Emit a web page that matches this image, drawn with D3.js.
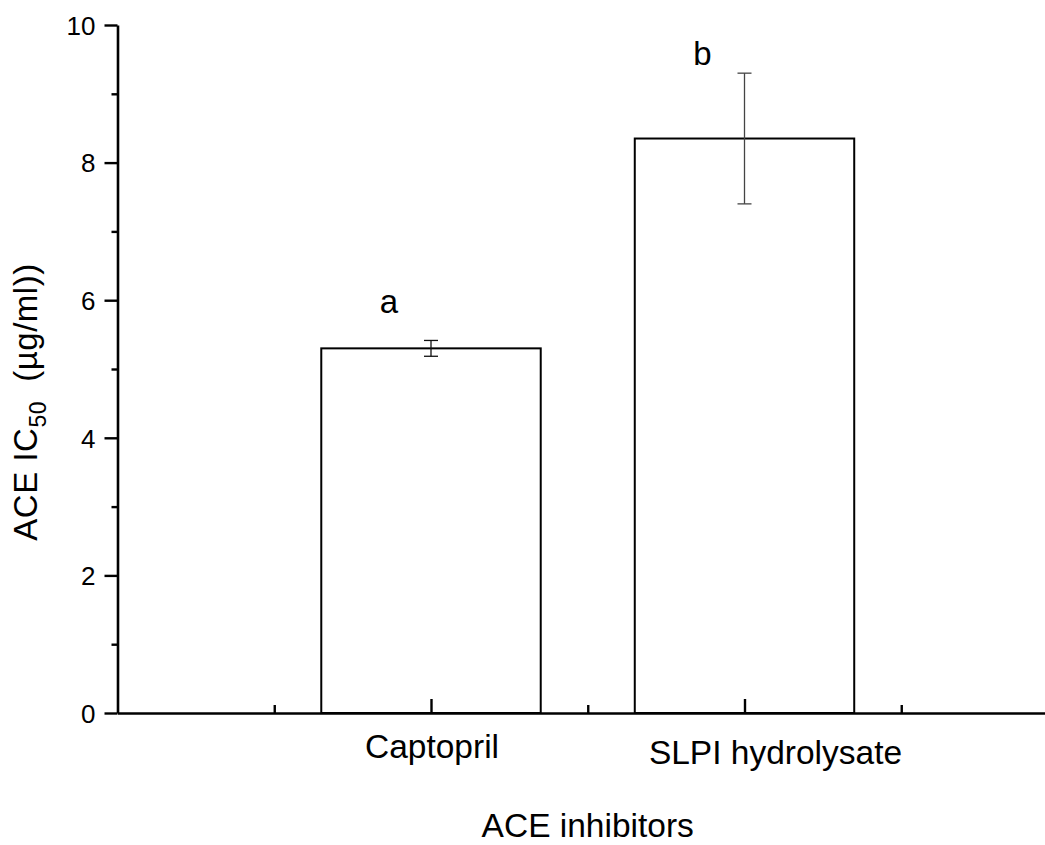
<!DOCTYPE html>
<html>
<head>
<meta charset="utf-8">
<script src="https://cdn.jsdelivr.net/npm/d3@7"></script>
<style>
  body { margin: 0; background: #fff; }
  text { font-family: "Liberation Sans", Arial, sans-serif; fill: #000; }
</style>
</head>
<body>
<div class="chart"></div>
<script>
// data
const categories = ["Captopril", "SLPI hydrolysate"];
const means = [5.30, 8.35];
const errors = [0.115, 0.95];
const letters = ["a", "b"];
const letterAt = [5.81, 9.42];   // y value of the letter baseline
const yTicks = [0, 2, 4, 6, 8, 10];
const yMinor = [1, 3, 5, 7, 9];
const xMinor = [0.5, 1.5, 2.5];

function drawChart() {
    const W = 1045, H = 845;

    const svg = d3.select("div.chart").append("svg")
        .attr("width", W)
        .attr("height", H);

    // skalor
    const x = d3.scaleLinear().domain([0, 3]).range([117.5, 1058]);
    const y = d3.scaleLinear().domain([0, 10]).range([713, 25]);
    const barW = x(0.7) - x(0);
    const pos = categories.map((c, i) => i + 1);

    // staplar
    svg.selectAll(".bar")
        .data(categories)
        .enter().append("rect")
        .attr("class", "bar")
        .attr("x", (d, i) => x(pos[i]) - barW / 2)
        .attr("y", (d, i) => y(means[i]))
        .attr("width", barW)
        .attr("height", (d, i) => y(0) - y(means[i]))
        .attr("fill", "#fff")
        .attr("stroke", "#000")
        .attr("stroke-width", 2);

    // felstaplar
    const eb = svg.selectAll(".err")
        .data(categories)
        .enter().append("g")
        .attr("class", "err")
        .attr("stroke", (d, i) => i === 0 ? "#111" : "#444")
        .attr("stroke-width", 1.3);
    eb.append("line")
        .attr("x1", (d, i) => x(pos[i])).attr("x2", (d, i) => x(pos[i]))
        .attr("y1", (d, i) => y(means[i] + errors[i]))
        .attr("y2", (d, i) => y(means[i] - errors[i]));
    [1, -1].forEach(s => {
        eb.append("line")
            .attr("x1", (d, i) => x(pos[i]) - 7).attr("x2", (d, i) => x(pos[i]) + 7)
            .attr("y1", (d, i) => y(means[i] + s * errors[i]))
            .attr("y2", (d, i) => y(means[i] + s * errors[i]));
    });

    // bokstäver
    svg.selectAll(".letter")
        .data(letters)
        .enter().append("text")
        .attr("class", "letter")
        .attr("x", (d, i) => x(pos[i]) - 42)
        .attr("y", (d, i) => y(letterAt[i]))
        .attr("text-anchor", "middle")
        .style("font-size", "33px")
        .text(d => d);

    // y-axel
    const yAxis = svg.append("g")
        .attr("transform", `translate(${x(0)},0)`)
        .call(d3.axisLeft(y).tickValues(yTicks).tickSize(13).tickSizeOuter(0).tickPadding(9));
    yAxis.selectAll("text").style("font-size", "26px").attr("dy", "0.36em");
    svg.append("g")
        .attr("transform", `translate(${x(0)},0)`)
        .call(d3.axisLeft(y).tickValues(yMinor).tickSize(6).tickFormat(""))
        .select(".domain").remove();

    // x-axel, ticks inåt
    svg.append("g")
        .attr("transform", `translate(0,${y(0)})`)
        .call(d3.axisBottom(x).tickValues(pos).tickSize(-14).tickSizeOuter(0).tickFormat(""));
    svg.append("g")
        .attr("transform", `translate(0,${y(0)})`)
        .call(d3.axisBottom(x).tickValues(xMinor).tickSize(-8).tickFormat(""))
        .select(".domain").remove();

    svg.selectAll(".domain").attr("stroke-width", 2.6);
    svg.selectAll(".tick line").attr("stroke-width", 2.4);

    // kategorinamn
    svg.selectAll(".cat")
        .data(categories)
        .enter().append("text")
        .attr("class", "cat")
        .attr("x", (d, i) => x(pos[i]) + (i === 0 ? 1 : 31))
        .attr("y", (d, i) => y(0) + 45 + i * 6)
        .attr("text-anchor", "middle")
        .style("font-size", "33.5px")
        .text(d => d);

    // axeltitlar
    svg.append("text")
        .attr("x", x(1.5))
        .attr("y", 837)
        .attr("text-anchor", "middle")
        .style("font-size", "33.5px")
        .text("ACE inhibitors");

    const yl = svg.append("text")
        .attr("transform", "translate(37,402) rotate(-90)")
        .attr("text-anchor", "middle")
        .style("font-size", "33px")
        .style("letter-spacing", "0.5px");
    yl.append("tspan").text("ACE IC");
    yl.append("tspan").attr("dy", 9).style("font-size", "23px").text("50");
    yl.append("tspan").attr("dy", -9).text("\u00a0 (\u00b5g/ml))");
}

drawChart();
</script>
</body>
</html>
